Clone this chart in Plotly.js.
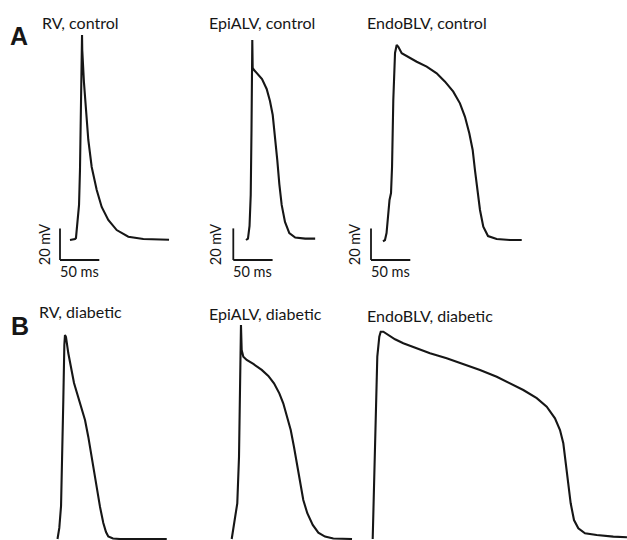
<!DOCTYPE html>
<html>
<head>
<meta charset="utf-8">
<script src="https://cdn.plot.ly/plotly-3.0.1.min.js"></script>
<style>html,body{margin:0;padding:0;background:#fff;}#chart{width:627px;height:540px;}</style>
</head>
<body>
<div id="chart"></div>
<script>
// ---------------- data (time in ms from trace start, membrane potential in mV) ----------------
const rvCtrlT  = [0, 6.4, 7.6, 9.5, 11.5, 12.7, 14.0, 15.3, 15.6, 17.8, 20.0, 23.3, 27.6, 34.0, 40.3, 48.7, 59.4, 74.2, 93.3, 126];
const rvCtrlV  = [-80, -79.4, -78.7, -70.5, -57.8, -35.7, 2.3, 49.7, 40.3, 19.4, 2.3, -16.7, -33.8, -48.4, -59.1, -67.3, -73.7, -77.9, -79.4, -79.8];

const epiCtrlT = [0, 2.5, 4.5, 6.0, 7.0, 7.6, 8.0, 8.5, 10.2, 14.0, 20.4, 26.3, 30.5, 34.0, 36.9, 39.8, 42.4, 45.4, 49.6, 55.1, 62.6, 75.3, 88.0];
const epiCtrlV = [-80, -79.1, -71.1, -51.5, -10.4, 24.4, 46.6, 28.9, 27.6, 25.7, 21.9, 15.6, 8.0, -0.9, -14.2, -29.4, -44.6, -57.8, -68.6, -75.6, -78.4, -79.1, -79.1];

const endoCtrlT = [0, 2.5, 4.5, 6.4, 8.3, 10.2, 11.5, 13.1, 15.3, 17.4, 19.5, 23.8, 32.2, 42.9, 55.6, 68.3, 78.9, 89.4, 97.9, 104.3, 109.8, 114.1, 117.0, 120.0, 123.4, 127.6, 133.6, 144.6, 161.5, 176.5];
const endoCtrlV = [-80.8, -80, -75.6, -64.2, -54.7, -50.3, -33.8, 8.6, 38.4, 43.4, 42.3, 38.2, 35.6, 32.8, 29.7, 25.5, 20.2, 13.9, 6.5, -2.0, -12.5, -23.0, -35.7, -48.4, -61.0, -71.6, -77.5, -79.4, -80, -80];

const rvDiabT  = [0, 2.3, 4.5, 6.1, 7.4, 8.7, 9.5, 10.8, 13.7, 21.0, 28.6, 35.0, 39.2, 43.5, 46.9, 50.0, 54.1, 58.3, 61.7, 64.6, 70.6, 79.5, 113.5, 139.0];
const rvDiabV  = [-80, -73.0, -59.1, -28.1, 8.0, 42.8, 49.1, 47.8, 37.7, 18.7, 6.1, -4.7, -15.4, -28.1, -38.2, -49.0, -59.7, -69.9, -75.6, -78.4, -79.7, -80, -80, -80];

const epiDiabT = [0, 4.2, 7.1, 9.3, 10.6, 11.5, 11.8, 12.7, 14.8, 19.1, 27.5, 38.2, 46.6, 53.8, 60.6, 65.6, 70.7, 75.1, 79.2, 82.7, 86.9, 91.1, 96.2, 103.1, 110.2, 118.7, 129.3, 153.1];
const epiDiabV = [-80, -68.0, -57.4, -27.9, 14.3, 45.9, 55.4, 39.6, 35.4, 33.3, 30.8, 27.0, 23.2, 18.5, 12.2, 5.9, -2.6, -11.0, -21.6, -32.1, -44.7, -55.3, -63.7, -71.1, -76.0, -78.5, -79.7, -80];

const endoDiabT = [0, 1.65, 3.8, 5.85, 8.4, 10.2, 13.5, 19.8, 28.4, 38.9, 56.0, 72.9, 94.1, 115.3, 136.5, 157.8, 174.7, 191.6, 208.7, 221.4, 231.9, 238.3, 242.5, 245.9, 248.9, 251.9, 256.1, 261.6, 270.1, 285.0, 306.1, 323.5];
const endoDiabV = [-80, -49.0, -6.8, 35.4, 48.0, 51.2, 51.2, 49.1, 46.4, 43.9, 40.7, 37.5, 34.4, 30.8, 27.0, 22.7, 18.5, 14.3, 9.1, 3.7, -3.6, -11.0, -19.4, -32.1, -44.7, -57.4, -68.0, -73.2, -76.4, -77.5, -78.5, -78.9];

const panelTitles = ["RV, control", "EpiALV, control", "EndoBLV, control", "RV, diabetic", "EpiALV, diabetic", "EndoBLV, diabetic"];
const rowLabels = ["A", "B"];
const scaleTimeMs = 50;
const scaleVoltMv = 20;
const scaleTimeLabel = "50 ms";
const scaleVoltLabel = "20 mV";

// ---------------- layout geometry ----------------
const W = 627, H = 540;
const KX = 0.786;   // px per ms
const KY = 1.58;    // px per mV
const REST = -80;
// pixel anchor of each trace: [x of trace start, y of resting level]
const anchors = [[70, 240], [246, 240], [383, 240], [57.5, 539], [231.7, 539], [372.7, 539]];
const series = [[rvCtrlT, rvCtrlV], [epiCtrlT, epiCtrlV], [endoCtrlT, endoCtrlV], [rvDiabT, rvDiabV], [epiDiabT, epiDiabV], [endoDiabT, endoDiabV]];
const titlePos = [[40, 22], [206.5, 22], [365, 22.5], [37, 311], [206.5, 313.5], [365, 315]];
const scaleBarPos = [[60, 260], [233.3, 260], [371, 260]]; // bottom-left corner of L
const voltLabelX = [44, 215, 354];
const timeLabelY = 271;

const FONT = "Lato, 'Open Sans', sans-serif";
const INK = "#161616";

const traces = [];
const layout = {
  width: W, height: H,
  margin: {l: 0, r: 0, t: 0, b: 0, pad: 0},
  paper_bgcolor: "#ffffff",
  plot_bgcolor: "rgba(0,0,0,0)",
  showlegend: false,
  annotations: [],
  shapes: []
};

function tOf(i, px) { return (px - anchors[i][0]) / KX; }
function vOf(i, py) { return REST + (anchors[i][1] - py) / KY; }

series.forEach((s, i) => {
  const n = i === 0 ? "" : String(i + 1);
  const xa = "x" + n, ya = "y" + n;
  traces.push({
    type: "scatter", mode: "lines", x: s[0], y: s[1],
    xaxis: xa, yaxis: ya,
    line: {color: INK, width: 2.1},
    hoverinfo: "skip"
  });
  layout["xaxis" + n] = {domain: [0, 1], range: [tOf(i, 0), tOf(i, W)], visible: false, fixedrange: true, anchor: ya};
  layout["yaxis" + n] = {domain: [0, 1], range: [vOf(i, H), vOf(i, 0)], visible: false, fixedrange: true, anchor: xa};
  layout.annotations.push({
    xref: "paper", yref: "paper", x: titlePos[i][0] / W, y: 1 - titlePos[i][1] / H,
    xanchor: "left", yanchor: "middle", showarrow: false,
    text: panelTitles[i], font: {family: FONT, size: 16, color: INK}
  });
});

// scale bars (row A panels)
scaleBarPos.forEach((p, i) => {
  const n = i === 0 ? "" : String(i + 1);
  const t0 = tOf(i, p[0]), v0 = vOf(i, p[1]);
  layout.shapes.push({type: "line", xref: "x" + n, yref: "y" + n, x0: t0, x1: t0, y0: v0, y1: v0 + scaleVoltMv, line: {color: INK, width: 1.8}});
  layout.shapes.push({type: "line", xref: "x" + n, yref: "y" + n, x0: t0, x1: t0 + scaleTimeMs, y0: v0, y1: v0, line: {color: INK, width: 1.8}});
  layout.annotations.push({
    xref: "x" + n, yref: "y" + n, x: tOf(i, voltLabelX[i]), y: v0 + scaleVoltMv / 2,
    xanchor: "center", yanchor: "middle", textangle: -90, showarrow: false,
    text: scaleVoltLabel, font: {family: FONT, size: 14.5, color: INK}
  });
  layout.annotations.push({
    xref: "x" + n, yref: "y" + n, x: t0 + scaleTimeMs / 2, y: vOf(i, timeLabelY),
    xanchor: "center", yanchor: "middle", showarrow: false,
    text: scaleTimeLabel, font: {family: FONT, size: 14.5, color: INK}
  });
});

// row letters
[[19, 36], [20, 326]].forEach((p, k) => {
  layout.annotations.push({
    xref: "paper", yref: "paper", x: p[0] / W, y: 1 - p[1] / H,
    xanchor: "center", yanchor: "middle", showarrow: false,
    text: "<b>" + rowLabels[k] + "</b>", font: {family: "'Liberation Sans', Arial, sans-serif", size: 25, color: INK}
  });
});

Plotly.newPlot("chart", traces, layout, {staticPlot: true, displayModeBar: false});
</script>
</body>
</html>
